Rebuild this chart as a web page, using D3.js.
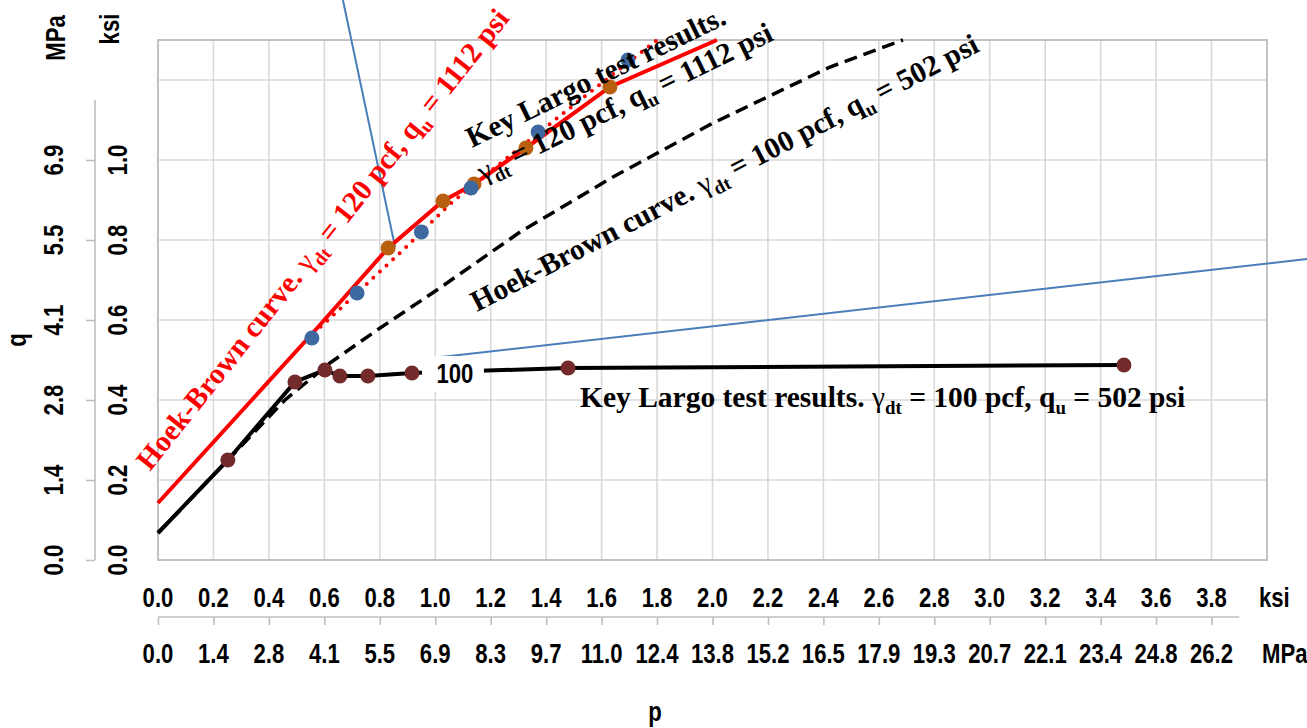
<!DOCTYPE html>
<html>
<head>
<meta charset="utf-8">
<script src="https://cdn.jsdelivr.net/npm/d3@7"></script>
<style>
  body { margin: 0; background: #fff; }
  svg { display: block; }
  .axis-lbl { font-family: "Liberation Sans", Arial, sans-serif; font-weight: bold; font-size: 27px; fill: #000; }
  .note { font-family: "Liberation Serif", "Times New Roman", serif; font-weight: bold; font-size: 29.5px; }
</style>
</head>
<body>
<svg id="chart" width="1307" height="728"></svg>
<script>
// ---- tick labels (p and q in ksi, with MPa equivalents) ----
const xTicksKsi = ["0.0","0.2","0.4","0.6","0.8","1.0","1.2","1.4","1.6","1.8","2.0","2.2","2.4","2.6","2.8","3.0","3.2","3.4","3.6","3.8"];
const xTicksMPa = ["0.0","1.4","2.8","4.1","5.5","6.9","8.3","9.7","11.0","12.4","13.8","15.2","16.5","17.9","19.3","20.7","22.1","23.4","24.8","26.2"];
const yTicksKsi = ["0.0","0.2","0.4","0.6","0.8","1.0"];
const yTicksMPa = ["0.0","1.4","2.8","4.1","5.5","6.9"];

// ---- series, [p, q] in ksi ----
// Key Largo test results, gamma_dt = 100 pcf
const test100Line = [[0, 0.0675], [0.252, 0.25], [0.494, 0.445], [0.602, 0.475], [0.656, 0.46], [0.757, 0.46], [0.916, 0.4675], [1.479, 0.48], [3.484, 0.4875]];
const test100Pts  = [[0.252, 0.25], [0.494, 0.445], [0.602, 0.475], [0.656, 0.46], [0.757, 0.46], [0.916, 0.4675], [1.479, 0.48], [3.484, 0.4875]];
// Hoek-Brown curve, gamma_dt = 100 pcf
const hb100 = [[0, 0.0675], [0.2525, 0.25], [0.458, 0.40], [0.62, 0.4925], [0.801, 0.58], [1.006, 0.675], [1.306, 0.82], [1.641, 0.9575], [2.002, 1.0925], [2.424, 1.2325], [2.687, 1.30]];
// Hoek-Brown curve, gamma_dt = 120 pcf
const hb120 = [[0, 0.1425], [0.555, 0.565], [0.83, 0.78], [1.028, 0.8975], [1.14, 0.94], [1.327, 1.03], [1.63, 1.1825], [2.016, 1.30]];
const hb120Pts = [[0.83, 0.78], [1.028, 0.8975], [1.14, 0.94], [1.327, 1.03], [1.63, 1.1825]];
// Key Largo test results, gamma_dt = 120 pcf, and their trend
const test120Pts = [[0.555, 0.555], [0.718, 0.6675], [0.95, 0.82], [1.129, 0.93], [1.371, 1.07], [1.695, 1.25]];
const trend120 = [[0.563, 0.5675], [0.884, 0.775], [1.053, 0.89], [1.259, 1.005], [1.522, 1.15], [1.80, 1.30]];
// data-label leader lines
const leaderA = [[0.667, 1.40], [0.855, 0.7825]];
const leaderB = [[1.021, 0.5075], [4.144, 0.7525]];

const narrow = 0.82; // condensed sans for axis text

const svg = d3.select("#chart");
const x = d3.scaleLinear().domain([0, 4.0]).range([158, 1267]);
const y = d3.scaleLinear().domain([0, 1.3]).range([560, 40]);
const line = d3.line().x(d => x(d[0])).y(d => y(d[1]));

// ---- grid ----
const grid = svg.append("g");
grid.selectAll("line.v").data(d3.range(1, 20).map(i => i * 0.2)).join("line")
  .attr("x1", d => x(d)).attr("x2", d => x(d)).attr("y1", y(0)).attr("y2", y(1.3))
  .attr("stroke", "#d9d9d9").attr("stroke-width", 1.6);
grid.selectAll("line.h").data([0.2, 0.4, 0.6, 0.8, 1.0, 1.2]).join("line")
  .attr("x1", x(0)).attr("x2", x(4)).attr("y1", d => y(d)).attr("y2", d => y(d))
  .attr("stroke", "#d9d9d9").attr("stroke-width", 1.6);
svg.append("rect").attr("x", x(0)).attr("y", y(1.3)).attr("width", x(4) - x(0)).attr("height", y(0) - y(1.3))
  .attr("fill", "none").attr("stroke", "#bdbdbd").attr("stroke-width", 1.8);

// ---- left (q) axis ----
const yAx = svg.append("g").attr("transform", "translate(95,0)")
  .call(d3.axisLeft(y).tickValues([0, 0.2, 0.4, 0.6, 0.8, 1.0]).tickSize(9).tickFormat(""));
yAx.select(".domain").remove();
yAx.selectAll(".tick line").attr("stroke", "#bfbfbf").attr("stroke-width", 1.6);
yAx.append("line").attr("x1", 0).attr("x2", 0).attr("y1", y(0)).attr("y2", y(1.15))
  .attr("stroke", "#bfbfbf").attr("stroke-width", 1.6);

function vLabel(px, py, txt) {
  svg.append("text").attr("class", "axis-lbl").attr("text-anchor", "middle")
    .attr("transform", `translate(${px},${py}) rotate(-90) scale(${narrow},1)`).text(txt);
}
function hLabel(px, py, txt, anchor) {
  svg.append("text").attr("class", "axis-lbl").attr("text-anchor", anchor || "middle")
    .attr("transform", `translate(${px},${py}) scale(${narrow},1)`).text(txt);
}
yTicksKsi.forEach((d, i) => vLabel(127, y(i * 0.2), d));
yTicksMPa.forEach((d, i) => vLabel(63, y(i * 0.2), d));
vLabel(119, 29, "ksi");
vLabel(65, 38, "MPa");
vLabel(26, 340, "q");

// ---- bottom (p) axis ----
const xAx = svg.append("g").attr("transform", "translate(0,617)")
  .call(d3.axisBottom(x).tickValues(d3.range(0, 20).map(i => i * 0.2)).tickSize(8).tickFormat(""));
xAx.select(".domain").remove();
xAx.selectAll(".tick line").attr("stroke", "#bfbfbf").attr("stroke-width", 1.6);
xAx.append("line").attr("x1", x(0)).attr("x2", x(3.9)).attr("y1", 0).attr("y2", 0)
  .attr("stroke", "#bfbfbf").attr("stroke-width", 1.6);

xTicksKsi.forEach((d, i) => hLabel(x(i * 0.2), 607, d));
xTicksMPa.forEach((d, i) => hLabel(x(i * 0.2), 663, d));
hLabel(1259, 607, "ksi", "start");
hLabel(1262, 663, "MPa", "start");
hLabel(655, 721, "p");

// ---- leader lines ----
[leaderA, leaderB].forEach(l => svg.append("path").attr("d", line(l))
  .attr("fill", "none").attr("stroke", "#4a7ebb").attr("stroke-width", 2));

// ---- curves ----
svg.append("path").attr("d", line(hb100)).attr("fill", "none").attr("stroke", "#000")
  .attr("stroke-width", 3.5).attr("stroke-dasharray", "13,7");
svg.append("path").attr("d", line(test100Line)).attr("fill", "none").attr("stroke", "#000")
  .attr("stroke-width", 4);
svg.append("path").attr("d", line(trend120)).attr("fill", "none").attr("stroke", "#ff0000")
  .attr("stroke-width", 4).attr("stroke-linecap", "round").attr("stroke-dasharray", "0,9");
svg.append("path").attr("d", line(hb120)).attr("fill", "none").attr("stroke", "#ff0000")
  .attr("stroke-width", 4);

// ---- markers ----
svg.selectAll("circle.t100").data(test100Pts).join("circle")
  .attr("cx", d => x(d[0])).attr("cy", d => y(d[1])).attr("r", 7.5).attr("fill", "#722a2a");
svg.selectAll("circle.hb120").data(hb120Pts).join("circle")
  .attr("cx", d => x(d[0])).attr("cy", d => y(d[1])).attr("r", 7.5).attr("fill", "#b8600f");
svg.selectAll("circle.t120").data(test120Pts).join("circle")
  .attr("cx", d => x(d[0])).attr("cy", d => y(d[1])).attr("r", 7.5).attr("fill", "#3d68a0");

// ---- "100" data label ----
const lblP = 1.071, lblQ = 0.465;
svg.append("rect").attr("x", x(lblP) - 33).attr("y", y(lblQ) - 18).attr("width", 62).attr("height", 36).attr("fill", "#fff");
hLabel(x(lblP), y(lblQ) + 9, "100");

// ---- annotations ----
function note(p, q, angle, color, parts) {
  const t = svg.append("text").attr("class", "note").attr("fill", color)
    .attr("transform", `translate(${x(p)},${y(q)}) rotate(${angle})`);
  parts.forEach(seg => {
    const s = t.append("tspan").text(seg.t);
    if (seg.sub) s.attr("font-size", "0.64em").attr("dy", 7);
    if (seg.after) s.attr("dy", -7);
    if (seg.greek) s.attr("font-weight", "normal");
  });
  return t;
}
const sym120 = [
  { t: "γ", greek: true }, { t: "dt", sub: true }, { t: " = 120 pcf, q", after: true },
  { t: "u", sub: true }, { t: " = 1112 psi", after: true }
];
const sym100 = [
  { t: "γ", greek: true }, { t: "dt", sub: true }, { t: " = 100 pcf, q", after: true },
  { t: "u", sub: true }, { t: " = 502 psi", after: true }
];
note(-0.029, 0.22, -51.5, "#ff0000", [{ t: "Hoek-Brown curve. " }].concat(sym120));
note(1.1326, 1.03, -26, "#000", [{ t: "Key Largo test results." }]);
note(1.172, 0.945, -26, "#000", sym120);
note(1.1506, 0.62, -27.4, "#000", [{ t: "Hoek-Brown curve. " }].concat(sym100));
note(1.522, 0.3825, 0, "#000", [{ t: "Key Largo test results. " }].concat(sym100));
</script>
</body>
</html>
